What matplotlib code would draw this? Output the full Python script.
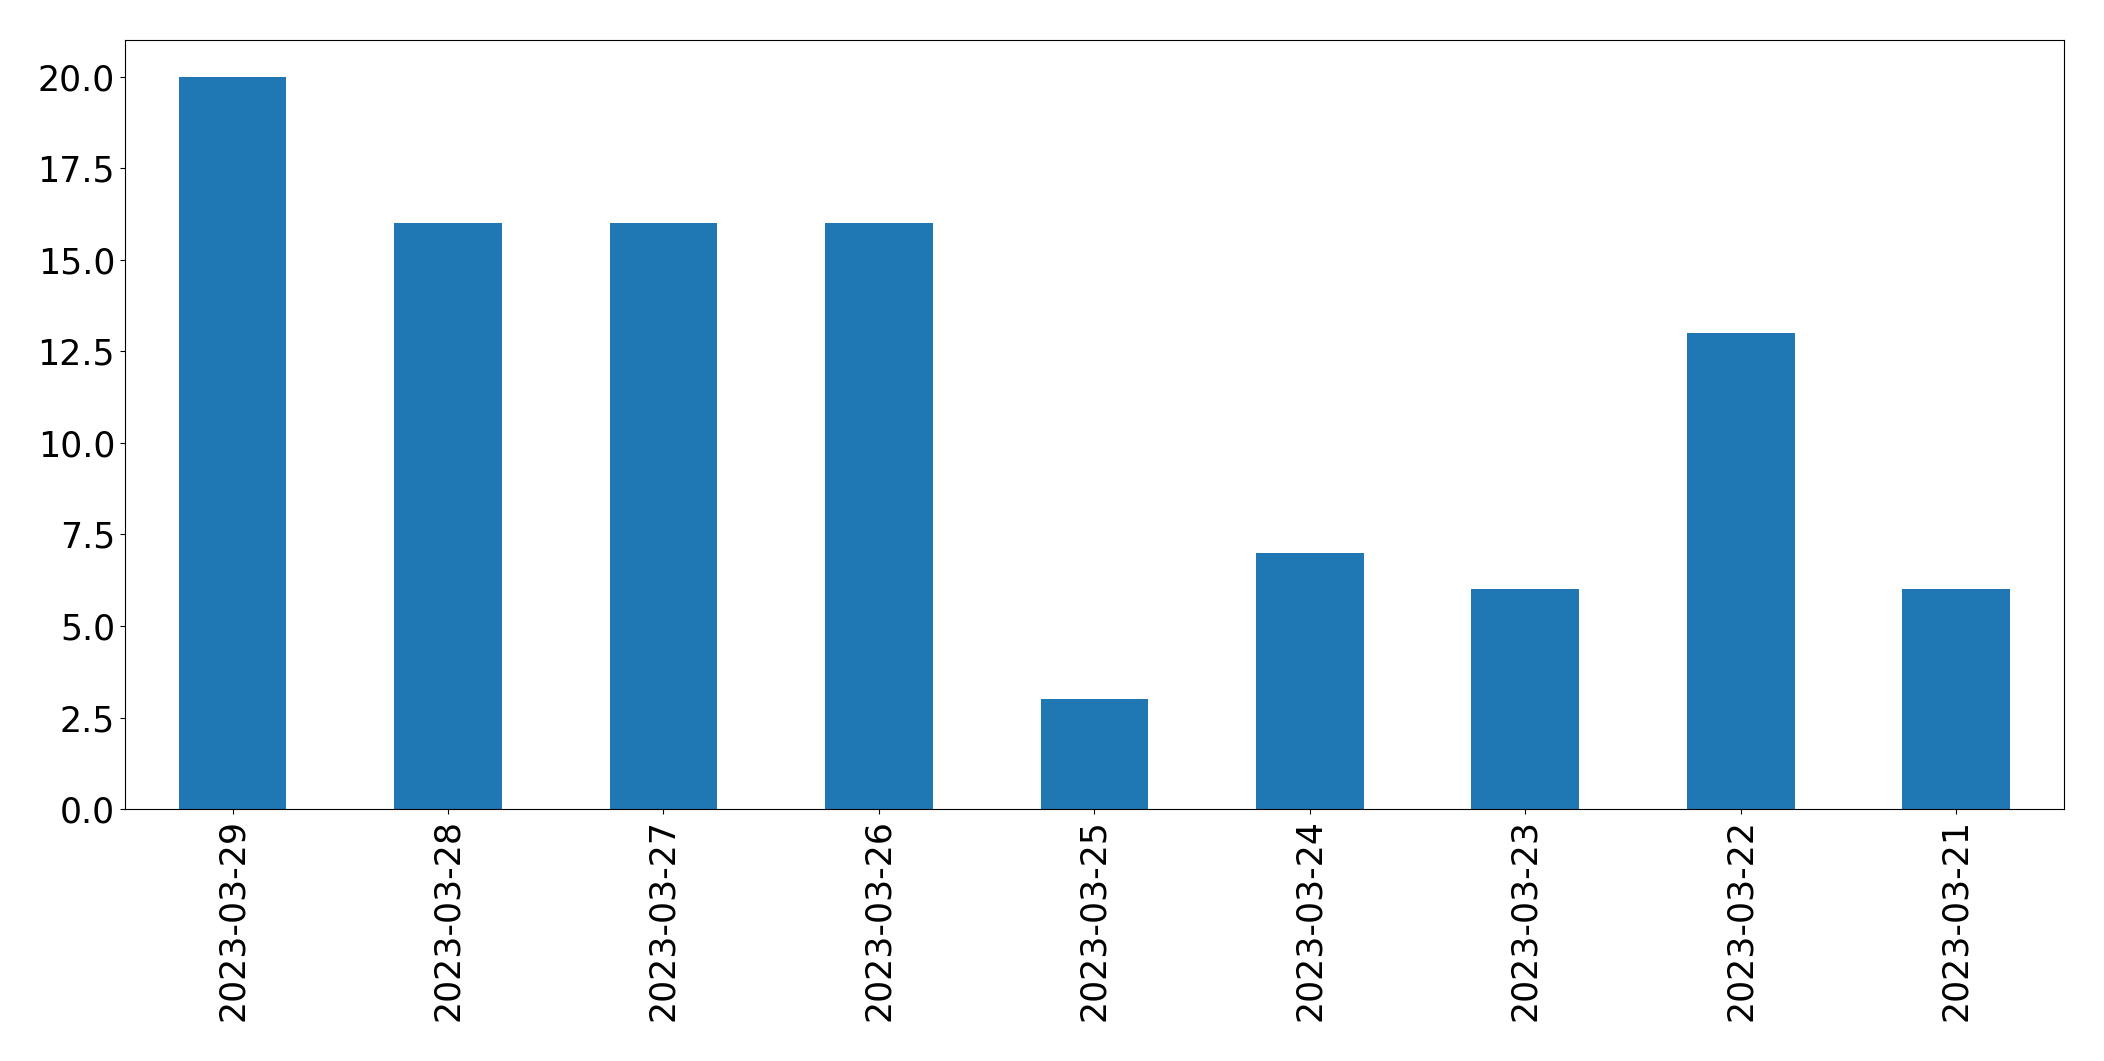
import matplotlib
matplotlib.use("Agg")
import matplotlib.pyplot as plt
import pandas as pd

dates = ["2023-03-29", "2023-03-28", "2023-03-27", "2023-03-26", "2023-03-25",
         "2023-03-24", "2023-03-23", "2023-03-22", "2023-03-21"]
counts = [20, 16, 16, 16, 3, 7, 6, 13, 6]

s = pd.Series(counts, index=dates)

fig, ax = plt.subplots(figsize=(21.04, 10.61), dpi=100)
s.plot(kind="bar", ax=ax, color="#1f77b4", fontsize=25)
ax.set_ylim(0, 21)
fig.subplots_adjust(left=0.0593, right=0.981, top=0.962, bottom=0.2375)
fig.savefig("out.png", dpi=100)
